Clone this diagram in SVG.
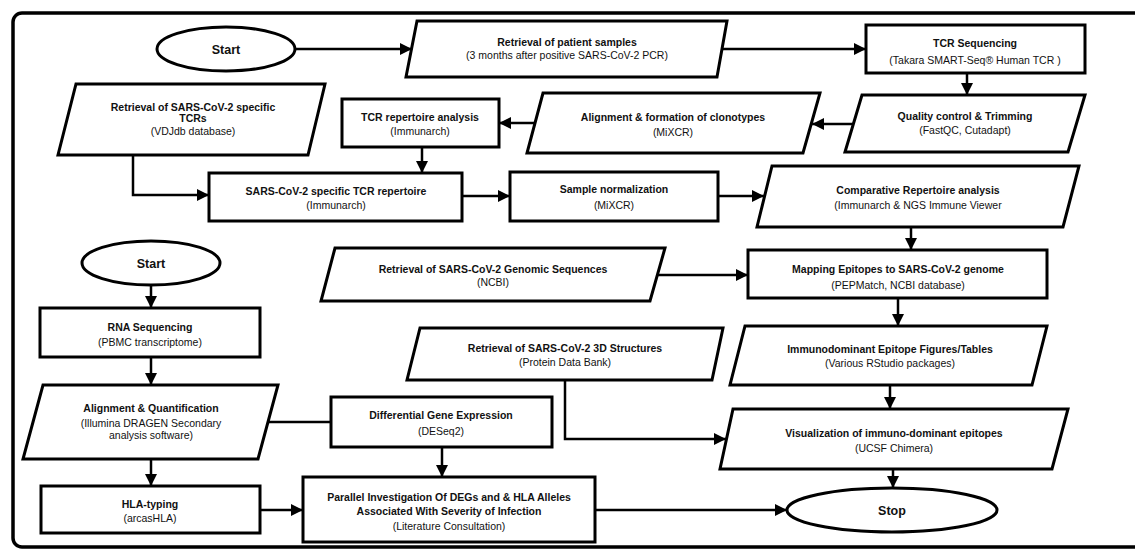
<svg xmlns="http://www.w3.org/2000/svg" width="1135" height="550" viewBox="0 0 1135 550">
<defs>
<marker id="ah" markerUnits="userSpaceOnUse" markerWidth="12" markerHeight="12" refX="12" refY="6" orient="auto">
<path d="M0,0 L12,6 L0,12 z" fill="#000"/>
</marker>
<style>
.shape{fill:#fff;stroke:#000;stroke-width:3;stroke-linejoin:miter}
.frame{fill:none;stroke:#000;stroke-width:3.5}
.con{fill:none;stroke:#000;stroke-width:2.5}
.arr{marker-end:url(#ah)}
text{font-family:"Liberation Sans",Arial,sans-serif;font-size:10.5px;text-anchor:middle;fill:#111}
.b{font-weight:bold}
.t{font-weight:bold;font-size:12.5px}
</style>
</defs>
<rect class="frame" x="13" y="13" width="1140" height="534" rx="9"/>
<g id="connectors">
<line class="con arr" x1="295" y1="49" x2="412" y2="49"/>
<line class="con arr" x1="722" y1="49" x2="866" y2="49"/>
<line class="con arr" x1="967" y1="73" x2="967" y2="95"/>
<line class="con arr" x1="853" y1="124" x2="812" y2="124"/>
<line class="con arr" x1="535" y1="123" x2="499" y2="123"/>
<line class="con arr" x1="422" y1="147" x2="422" y2="173"/>
<polyline class="con arr" points="133,155 133,195 209,195"/>
<line class="con arr" x1="462" y1="196" x2="510" y2="196"/>
<line class="con arr" x1="718" y1="196" x2="764" y2="196"/>
<line class="con arr" x1="911" y1="227" x2="911" y2="250"/>
<line class="con arr" x1="657" y1="275" x2="748" y2="275"/>
<line class="con arr" x1="898" y1="298" x2="898" y2="326"/>
<line class="con arr" x1="890" y1="385" x2="890" y2="409"/>
<polyline class="con arr" points="565,380 565,439 726,439"/>
<line class="con arr" x1="893" y1="469" x2="893" y2="488"/>
<line class="con arr" x1="151" y1="285" x2="151" y2="308"/>
<line class="con arr" x1="151" y1="357" x2="151" y2="385"/>
<line class="con" x1="268" y1="422" x2="331" y2="422"/>
<line class="con arr" x1="442" y1="447" x2="442" y2="477"/>
<line class="con arr" x1="151" y1="459" x2="151" y2="486"/>
<line class="con arr" x1="260" y1="510" x2="303" y2="510"/>
<line class="con arr" x1="595" y1="510" x2="787" y2="510"/>
</g>
<g id="start1">
<ellipse class="shape" cx="226" cy="49" rx="69" ry="22"/>
<text class="t" x="226" y="54">Start</text>
</g>
<g id="patient-samples">
<polygon class="shape" points="417,21 727,21 717,77 406,77"/>
<text class="b" x="567" y="46">Retrieval of patient samples</text>
<text x="567" y="59">(3 months after positive SARS-CoV-2 PCR)</text>
</g>
<g id="tcr-seq">
<rect class="shape" x="866" y="25" width="219" height="48"/>
<text class="b" x="975" y="47">TCR Sequencing</text>
<text x="975" y="64">(Takara SMART-Seq® Human TCR )</text>
</g>
<g id="qc">
<polygon class="shape" points="862,95 1085,95 1068,152 845,152"/>
<text class="b" x="965" y="120">Quality control &amp; Trimming</text>
<text x="965" y="134">(FastQC, Cutadapt)</text>
</g>
<g id="alignment-clonotypes">
<polygon class="shape" points="543,93 820,93 803,153 527,153"/>
<text class="b" x="673" y="121">Alignment &amp; formation of clonotypes</text>
<text x="673" y="136">(MiXCR)</text>
</g>
<g id="tcr-rep">
<rect class="shape" x="342" y="99" width="157" height="48"/>
<text class="b" x="420" y="121">TCR repertoire analysis</text>
<text x="420" y="135">(Immunarch)</text>
</g>
<g id="specific-tcrs">
<polygon class="shape" points="76,84 325,84 308,155 58,155"/>
<text class="b" x="193" y="111">Retrieval of SARS-CoV-2 specific</text>
<text class="b" x="193" y="122">TCRs</text>
<text x="193" y="135">(VDJdb database)</text>
</g>
<g id="sars-tcr-rep">
<rect class="shape" x="209" y="173" width="253" height="48"/>
<text class="b" x="336" y="195">SARS-CoV-2  specific TCR repertoire</text>
<text x="336" y="209">(Immunarch)</text>
</g>
<g id="sample-norm">
<rect class="shape" x="510" y="172" width="208" height="49"/>
<text class="b" x="614" y="193">Sample normalization</text>
<text x="614" y="209">(MiXCR)</text>
</g>
<g id="comparative">
<polygon class="shape" points="772,166 1079,166 1063,227 757,227"/>
<text class="b" x="918" y="194">Comparative Repertoire analysis</text>
<text x="918" y="209">(Immunarch &amp; NGS Immune Viewer</text>
</g>
<g id="mapping">
<rect class="shape" x="748" y="250" width="299" height="48"/>
<text class="b" x="898" y="273">Mapping Epitopes to SARS-CoV-2 genome</text>
<text x="898" y="289">(PEPMatch, NCBI database)</text>
</g>
<g id="genomic">
<polygon class="shape" points="335,248 665,248 650,301 321,301"/>
<text class="b" x="493" y="273">Retrieval of SARS-CoV-2 Genomic Sequences</text>
<text x="493" y="286">(NCBI)</text>
</g>
<g id="structures3d">
<polygon class="shape" points="420,328 723,328 712,380 407,380"/>
<text class="b" x="565" y="352">Retrieval of SARS-CoV-2 3D Structures</text>
<text x="565" y="366">(Protein Data Bank)</text>
</g>
<g id="immunodominant">
<polygon class="shape" points="745,326 1047,326 1032,385 730,385"/>
<text class="b" x="890" y="353">Immunodominant Epitope Figures/Tables</text>
<text x="890" y="367">(Various RStudio packages)</text>
</g>
<g id="visualization">
<polygon class="shape" points="733,409 1068,409 1052,469 720,469"/>
<text class="b" x="894" y="437">Visualization of immuno-dominant epitopes</text>
<text x="894" y="452">(UCSF Chimera)</text>
</g>
<g id="stop">
<ellipse class="shape" cx="892" cy="510" rx="105" ry="22"/>
<text class="t" x="892" y="515">Stop</text>
</g>
<g id="start2">
<ellipse class="shape" cx="151" cy="263" rx="69" ry="22"/>
<text class="t" x="151" y="268">Start</text>
</g>
<g id="rna-seq">
<rect class="shape" x="40" y="308" width="220" height="49"/>
<text class="b" x="150" y="331">RNA Sequencing</text>
<text x="150" y="346">(PBMC transcriptome)</text>
</g>
<g id="align-quant">
<polygon class="shape" points="43,385 278,385 258,459 23,459"/>
<text class="b" x="151" y="412">Alignment &amp; Quantification</text>
<text x="151" y="427">(Illumina DRAGEN Secondary</text>
<text x="151" y="439">analysis software)</text>
</g>
<g id="dge">
<rect class="shape" x="331" y="397" width="221" height="50"/>
<text class="b" x="441" y="419">Differential Gene Expression</text>
<text x="441" y="435">(DESeq2)</text>
</g>
<g id="hla">
<rect class="shape" x="41" y="486" width="219" height="47"/>
<text class="b" x="150" y="508">HLA-typing</text>
<text x="150" y="522">(arcasHLA)</text>
</g>
<g id="parallel">
<rect class="shape" x="303" y="477" width="292" height="65"/>
<text class="b" x="449" y="501">Parallel Investigation Of DEGs and &amp; HLA Alleles</text>
<text class="b" x="449" y="515">Associated With Severity of Infection</text>
<text x="449" y="530">(Literature Consultation)</text>
</g>
</svg>
